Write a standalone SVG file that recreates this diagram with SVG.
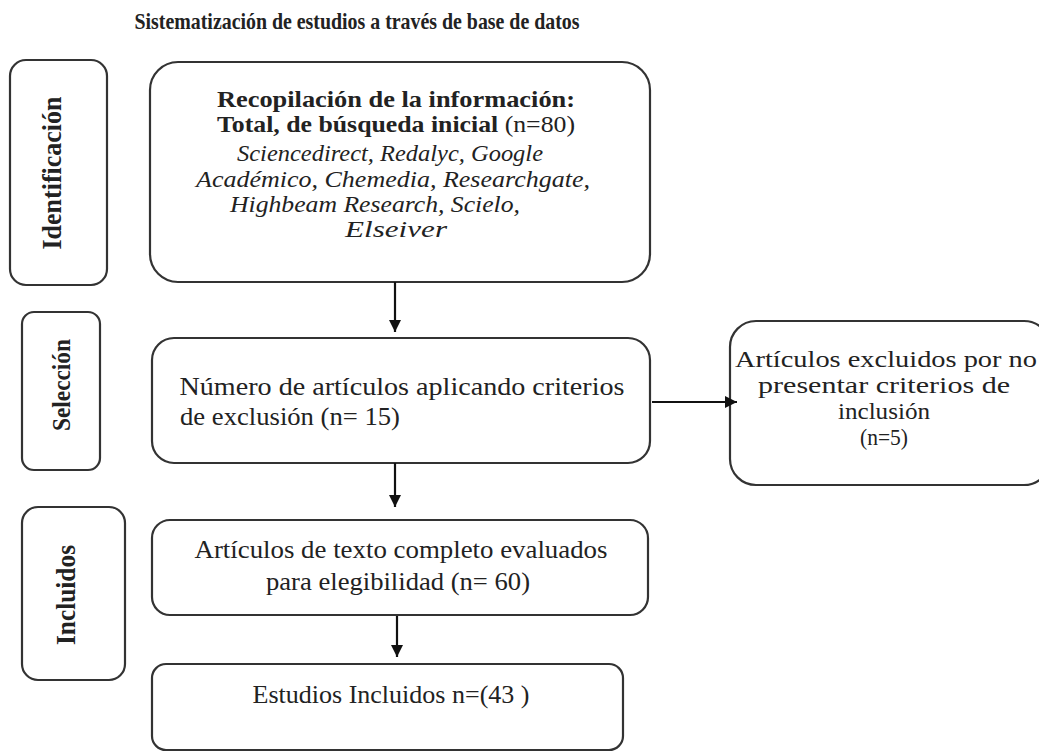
<svg xmlns="http://www.w3.org/2000/svg" width="1039" height="753" viewBox="0 0 1039 753">
<style>
.box{fill:#fff;stroke:#333;stroke-width:2.2}
.t{font-family:"Liberation Serif","Times New Roman",serif;font-size:26px;fill:#222;text-anchor:middle}
.b{font-weight:bold}
.i{font-style:italic}
.sm{font-size:24px}
.ttl{font-size:23px}
.lbl{font-size:28px}
.lbs{font-size:25px}
.c{stroke:#111;stroke-width:2.2;fill:none}
</style>
<defs>
<marker id="ah" markerWidth="12" markerHeight="14" refX="12" refY="6" orient="auto" markerUnits="userSpaceOnUse"><path d="M0,0 L12,6 L0,12 z" fill="#111"/></marker>
</defs>
<rect width="1039" height="753" fill="#fff"/>
<text class="t b ttl" x="357" y="29" textLength="445" lengthAdjust="spacingAndGlyphs">Sistematización de estudios a través de base de datos</text>

<g id="lbl-identificacion">
<rect class="box" x="10" y="60" width="97" height="225" rx="16"/>
<text class="t b lbl" transform="translate(61,173) rotate(-90)" textLength="153" lengthAdjust="spacingAndGlyphs">Identificación</text>
</g>
<g id="lbl-seleccion">
<rect class="box" x="22" y="312" width="78" height="158" rx="12"/>
<text class="t b lbs" transform="translate(70,385) rotate(-90)" textLength="92" lengthAdjust="spacingAndGlyphs">Selección</text>
</g>
<g id="lbl-incluidos">
<rect class="box" x="22" y="507" width="103" height="173" rx="16"/>
<text class="t b lbl" transform="translate(75,595) rotate(-90)" textLength="100" lengthAdjust="spacingAndGlyphs">Incluidos</text>
</g>

<g id="n-recopilacion">
<rect class="box" x="150" y="62" width="500" height="220" rx="28"/>
<text class="t b sm" x="396" y="107" textLength="358" lengthAdjust="spacingAndGlyphs">Recopilación de la información:</text>
<text class="t sm" x="396" y="132" textLength="358" lengthAdjust="spacingAndGlyphs"><tspan class="b">Total, de búsqueda inicial</tspan> (n=80)</text>
<text class="t i sm" x="390" y="161" textLength="306" lengthAdjust="spacingAndGlyphs">Sciencedirect, Redalyc, Google</text>
<text class="t i sm" x="393" y="187" textLength="394" lengthAdjust="spacingAndGlyphs">Académico, Chemedia, Researchgate,</text>
<text class="t i sm" x="375" y="212" textLength="290" lengthAdjust="spacingAndGlyphs">Highbeam Research, Scielo,</text>
<text class="t i sm" x="396" y="237" textLength="102" lengthAdjust="spacingAndGlyphs">Elseiver</text>
</g>

<g id="n-seleccion">
<rect class="box" x="152" y="338" width="498" height="125" rx="22"/>
<text class="t" x="402" y="395" textLength="445" lengthAdjust="spacingAndGlyphs">Número de artículos aplicando criterios</text>
<text class="t" x="180" y="425" style="text-anchor:start" textLength="220" lengthAdjust="spacingAndGlyphs">de exclusión (n= 15)</text>
</g>

<g id="n-excluidos">
<rect class="box" x="730" y="321" width="320" height="164" rx="26"/>
<text class="t sm" x="886" y="367" textLength="302" lengthAdjust="spacingAndGlyphs">Artículos excluidos por no</text>
<text class="t sm" x="884" y="393" textLength="252" lengthAdjust="spacingAndGlyphs">presentar criterios de</text>
<text class="t sm" x="884" y="419" textLength="92" lengthAdjust="spacingAndGlyphs">inclusión</text>
<text class="t sm" x="884" y="445" textLength="48" lengthAdjust="spacingAndGlyphs">(n=5)</text>
</g>

<g id="n-evaluados">
<rect class="box" x="152" y="520" width="496" height="95" rx="18"/>
<text class="t" x="401" y="558" textLength="413" lengthAdjust="spacingAndGlyphs">Artículos de texto completo evaluados</text>
<text class="t" x="398" y="590" textLength="264" lengthAdjust="spacingAndGlyphs">para elegibilidad (n= 60)</text>
</g>

<g id="n-incluidos">
<rect class="box" x="152" y="664" width="471" height="86" rx="14"/>
<text class="t" x="391" y="703" textLength="277" lengthAdjust="spacingAndGlyphs">Estudios Incluidos n=(43 )</text>
</g>

<g id="connectors">
<line class="c" x1="395" y1="282" x2="395" y2="332" marker-end="url(#ah)"/>
<line class="c" x1="652" y1="402" x2="737" y2="402" marker-end="url(#ah)"/>
<line class="c" x1="395" y1="463" x2="395" y2="507" marker-end="url(#ah)"/>
<line class="c" x1="397" y1="616" x2="397" y2="657" marker-end="url(#ah)"/>
</g>
</svg>
